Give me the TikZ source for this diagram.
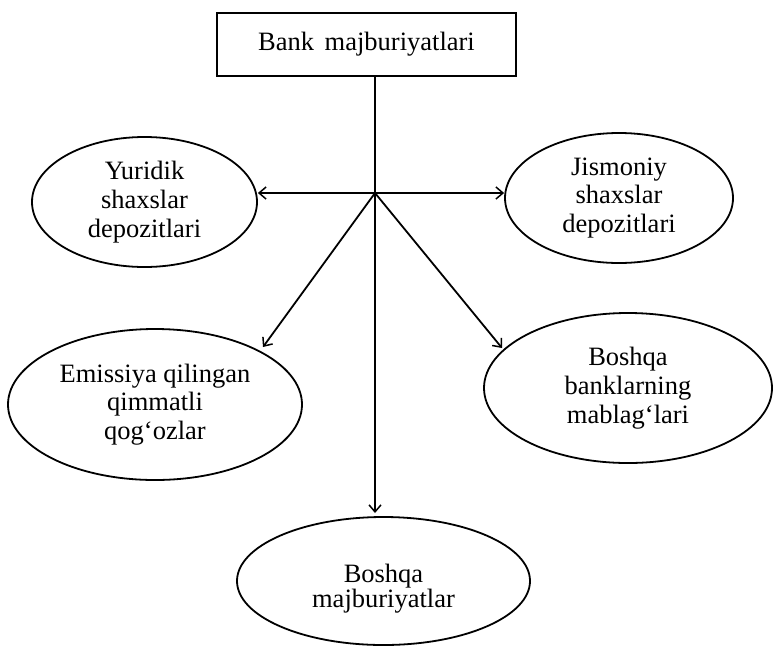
\documentclass[tikz,border=0pt]{standalone}
\usepackage{fontspec}
\setmainfont{Liberation Serif}
\usetikzlibrary{shapes.geometric,arrows.meta}
\newcommand\mytightfont{\fontsize{26.5}{25}\selectfont\lineskiplimit=-20pt\lineskip=0pt\relax}
\begin{document}
\begin{tikzpicture}[x=1pt,y=-1pt,
  every node/.style={font=\fontsize{26.5}{28.8}\selectfont},
  oval/.style={draw,line width=1.8pt,ellipse,inner sep=0pt,align=center},
  conn/.style={line width=1.8pt,-{Straight Barb[length=7pt,width=12pt,line width=1.5pt]}},
  topbox/.style={draw,line width=2pt,minimum width=299pt,minimum height=63pt,inner sep=0pt}]
\useasboundingbox (0,0) rectangle (773,646);
\node[topbox] (bank) at (366.5,44.5) {Bank\hspace{0.4em}majburiyatlari};
\coordinate (j) at (375,193);
\coordinate (btop) at (375,76);
\node[oval,minimum width=225pt,minimum height=130pt] (yur) at (144.5,202) {Yuridik\\shaxslar\\depozitlari};
\node[oval,minimum width=228pt,minimum height=130pt] (jis) at (619,198) {Jismoniy\\shaxslar\\depozitlari};
\node[oval,minimum width=294pt,minimum height=151pt] (emi) at (155,404.5) {Emissiya qilingan\\qimmatli\\qog‘ozlar};
\node[oval,minimum width=288pt,minimum height=150pt] (bbm) at (628,388) {Boshqa\\banklarning\\mablag‘lari};
\node[oval,minimum width=293pt,minimum height=128pt] (bmj) at (383.5,581) {};
\node[align=center,font=\mytightfont] (bmjt) at (383.5,589) {Boshqa\\majburiyatlar};
\draw[line width=1.8pt] (btop) -- (j);
\draw[conn] (j) -- (yur.east |- j);
\draw[conn] (j) -- (jis.west |- j);
\draw[conn] (j) -- (263,347) coordinate (e1);
\draw[conn] (j) -- (502,348) coordinate (e2);
\draw[conn] (j) -- (375,513) coordinate (e3);
\end{tikzpicture}
\end{document}
